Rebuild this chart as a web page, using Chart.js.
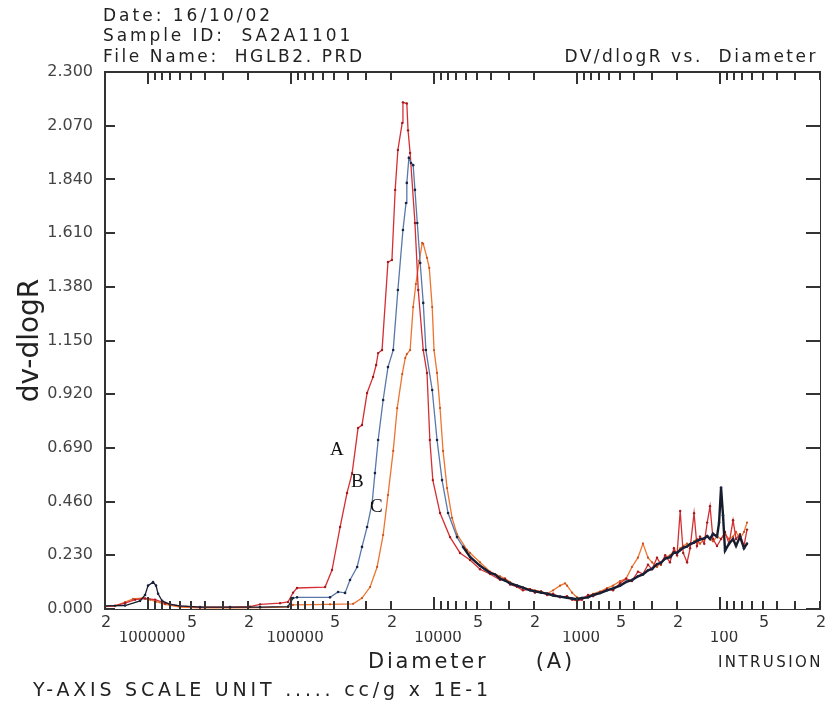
<!DOCTYPE html>
<html>
<head>
<meta charset="utf-8">
<script src="https://cdn.jsdelivr.net/npm/chart.js@4.4.1/dist/chart.umd.min.js"></script>
<style>
  html, body { margin: 0; padding: 0; background: #fff; }
  #wrap { position: relative; width: 832px; height: 704px; }
  #chart { position: absolute; left: 0; top: 0; }
  .t { position: absolute; font-family: 'DejaVu Sans', sans-serif; white-space: pre; color: #222; line-height: 1; }
  .hd { font-size: 17px; letter-spacing: 3px; left: 103px; }
  .lbl { font-family: 'Liberation Serif', serif; font-size: 19px; color: #111; }
  .ink { position: absolute; background: #333; }
</style>
</head>
<body>
<div id="wrap">
  <canvas id="chart" width="832" height="704"></canvas>
  <div class="t hd" style="top:7px">Date: 16/10/02</div>
  <div class="t hd" style="top:27px; letter-spacing:2.9px">Sample ID:  SA2A1101</div>
  <div class="t hd" style="top:48px; letter-spacing:2.6px">File Name:  HGLB2. PRD</div>
  <div class="t" style="top:48px; right:14px; font-size:17px; letter-spacing:2.5px">DV/dlogR vs.  Diameter</div>
  <div class="t" style="top:651px; left:368px; font-size:21px; letter-spacing:2.8px">Diameter     (A)</div>
  <div class="t" style="top:655px; left:718px; font-size:15px; letter-spacing:2.4px">INTRUSION</div>
  <div class="t" style="top:680px; left:33px; font-size:19px; letter-spacing:3.8px">Y-AXIS SCALE UNIT ..... cc/g x 1E-1</div>
  <div class="t lbl" style="top:439px; left:330px">A</div>
  <div class="t lbl" style="top:471px; left:351px">B</div>
  <div class="t lbl" style="top:496px; left:370px">C</div>
</div>
<script>
// pore size distribution, three samples A / B / C (diameter in A, dv/dlogR)

const diamA = [2000000, 1701000, 1448000, 1233000, 1049000, 893000, 760000, 597000, 433000, 267000,
  193500, 164700, 119400, 105000, 96800, 90800, 57800, 51700, 45400, 40600,
  37400, 34000, 31900, 29400, 26700, 25400, 24600, 23100, 21000, 19700,
  18700, 17900, 16700, 16500, 15500, 15200, 14700, 13600, 12900, 11900,
  11200, 10700, 10200, 9080, 7730, 6580, 5600,
  4770, 4060, 3455, 3190, 2940, 2630, 2390, 2130, 1970, 1785, 1620, 1470, 1315, 1175, 1084, 1000,
  923, 838, 773, 691, 617, 560, 500, 454, 413, 375, 346, 319, 299, 276, 259, 242, 224, 210, 200,
  190, 181, 170, 162, 152, 145, 138, 129, 123, 117.5, 112, 105, 98.4, 92.3, 86.5, 81.1, 77.3, 72.5, 68.0, 64.8];
const dvA = [0.010, 0.014, 0.025, 0.040, 0.045, 0.040, 0.025, 0.012, 0.008, 0.008,
  0.010, 0.020, 0.025, 0.030, 0.070, 0.090, 0.094, 0.167, 0.351, 0.497,
  0.582, 0.775, 0.788, 0.925, 0.994, 1.045, 1.096, 1.109, 1.486, 1.495,
  1.795, 1.966, 2.082, 2.170, 2.165, 2.050, 1.953, 1.653, 1.366, 1.109,
  1.011, 0.724, 0.552, 0.411, 0.308, 0.240, 0.210,
  0.170, 0.150, 0.125, 0.130, 0.105, 0.095, 0.080, 0.085, 0.070, 0.075, 0.060, 0.065, 0.050, 0.055, 0.040, 0.035,
  0.040, 0.060, 0.055, 0.070, 0.085, 0.080, 0.110, 0.130, 0.120, 0.160, 0.150, 0.190, 0.170, 0.220, 0.190, 0.230, 0.200, 0.260, 0.230,
  0.420, 0.240, 0.200, 0.260, 0.410, 0.270, 0.310, 0.280, 0.370, 0.440, 0.300, 0.270, 0.300, 0.330, 0.280, 0.380, 0.300, 0.320, 0.270, 0.340];

const diamB = [2000000, 1448000, 1137000, 1049000, 1000000, 923000, 879000, 851000, 798000, 702000,
  597000, 433000, 267000, 164700, 105000, 96800, 90800, 53400, 46900, 41900,
  38700, 34500, 31900, 29400, 27100, 25900, 24600, 22700, 21000, 19300,
  17900, 16500, 15700, 15500, 15000, 14500, 14000, 13600, 13100, 12500,
  11900, 11400, 10300, 9530, 8790, 7980, 6910, 6270, 5600,
  4770, 4400, 4060, 3744, 3455, 3190, 2940, 2630, 2390, 2130, 1970, 1785, 1620, 1470, 1315, 1175, 1084, 1000,
  923, 838, 773, 691, 617, 560, 500, 454, 413, 375, 346, 319, 299, 276, 259, 242, 224, 210, 200,
  190, 181, 170, 162, 152, 145, 138, 129, 123, 117.5, 112, 105, 101.6, 98.4, 95.3, 92.3, 86.5, 81.1, 77.3, 72.5, 68.0, 64.8];
const dvB = [0.013, 0.015, 0.035, 0.060, 0.100, 0.115, 0.100, 0.065, 0.035, 0.020,
  0.013, 0.008, 0.008, 0.008, 0.010, 0.047, 0.050, 0.050, 0.073, 0.069,
  0.124, 0.180, 0.266, 0.351, 0.454, 0.582, 0.724, 0.895, 1.036, 1.109,
  1.366, 1.623, 1.739, 1.825, 1.932, 1.910, 1.901, 1.795, 1.653, 1.482,
  1.311, 1.109, 0.938, 0.724, 0.552, 0.411, 0.308, 0.266, 0.223,
  0.185, 0.170, 0.155, 0.148, 0.130, 0.122, 0.110, 0.100, 0.092, 0.080, 0.076, 0.070, 0.066, 0.058, 0.053, 0.048, 0.045, 0.042,
  0.047, 0.050, 0.060, 0.068, 0.080, 0.088, 0.100, 0.116, 0.124, 0.140, 0.148, 0.166, 0.172, 0.192, 0.198, 0.216, 0.222, 0.242, 0.240,
  0.252, 0.262, 0.268, 0.278, 0.284, 0.292, 0.298, 0.302, 0.312, 0.300, 0.322, 0.310, 0.370, 0.520, 0.400, 0.250, 0.280, 0.300, 0.270, 0.310, 0.260, 0.280];

const diamC = [2000000, 1701000, 1448000, 1273000, 1084000, 968000, 879000, 760000, 597000, 433000,
  267000, 164700, 105000, 96800, 53400, 36800, 31900, 28000, 25000, 22700,
  21000, 19300, 18100, 16700, 15900, 15500, 14700, 14000, 13400, 12700,
  12100, 11900, 11200, 10800, 10300, 10000, 9530, 9080, 8650, 8110,
  7480, 6910, 5880, 5600,
  4770, 4060, 3455, 3190, 2940, 2630, 2390, 2130, 1970, 1785, 1620, 1470, 1315, 1213, 1175, 1084, 1000,
  923, 838, 773, 691, 617, 560, 500, 454, 413, 375, 346, 319, 299, 276, 259, 242, 224, 210, 200,
  190, 181, 170, 162, 152, 145, 138, 129, 123, 117.5, 112, 105, 98.4, 92.3, 86.5, 81.1, 77.3, 72.5, 68.0, 64.8];
const dvC = [0.010, 0.012, 0.030, 0.043, 0.047, 0.040, 0.032, 0.020, 0.008, 0.005,
  0.005, 0.006, 0.008, 0.018, 0.020, 0.022, 0.047, 0.094, 0.180, 0.317,
  0.488, 0.677, 0.860, 1.006, 1.075, 1.092, 1.109, 1.293, 1.392, 1.491,
  1.568, 1.564, 1.504, 1.461, 1.293, 1.109, 1.011, 0.861, 0.677, 0.518,
  0.390, 0.320, 0.253, 0.240,
  0.200, 0.160, 0.140, 0.130, 0.115, 0.100, 0.090, 0.085, 0.080, 0.075, 0.065, 0.080, 0.100, 0.110, 0.100, 0.070, 0.050,
  0.045, 0.055, 0.065, 0.075, 0.090, 0.100, 0.120, 0.130, 0.180, 0.220, 0.280, 0.220, 0.200, 0.180, 0.200, 0.220, 0.230, 0.250, 0.240,
  0.260, 0.270, 0.280, 0.270, 0.290, 0.300, 0.280, 0.300, 0.310, 0.300, 0.290, 0.310, 0.300, 0.320, 0.300, 0.310, 0.330, 0.300, 0.330, 0.370];

// axis ticks
const yTickVals = [0, 0.23, 0.46, 0.69, 0.92, 1.15, 1.38, 1.61, 1.84, 2.07, 2.3];
const xDigitVals = [2000000, 500000, 200000, 50000, 20000, 5000, 2000, 500, 200, 50, 20];
const xDigitText = ['2', '5', '2', '5', '2', '5', '2', '5', '2', '5', '2'];
const xDecades = [1000000, 100000, 10000, 1000, 100];
const xDecadeText = ['1000000', '100000', '10000', '1000', '100'];

// every 1..9 x 10^n mark between 20 and 2e6 (minor tick marks of the log axis)
const xMinor = [];
for (let e = 1; e <= 6; e++) for (let n = 1; n <= 9; n++) {
  const v = n * Math.pow(10, e);
  if (v >= 20 && v <= 2000000) xMinor.push(v);
}

const pts = (xs, ys) => xs.map((d, i) => ({ x: d, y: ys[i] }));
const INK = '#333333';
const FONT = 'DejaVu Sans';

// two stacked label rows under the plot: the 2/5 digits, then the decade numbers
const labelAxis = (vals, texts, size, pad, offset, weight, height) => ({
  type: 'logarithmic', reverse: true, min: 20, max: 2000000, position: 'bottom', weight,
  afterBuildTicks: s => { s.ticks = vals.map(v => ({ value: v })); },
  afterFit: s => { s.height = height; },
  border: { display: false },
  grid: { display: false, drawTicks: false },
  ticks: {
    autoSkip: false, maxRotation: 0, minRotation: 0, padding: pad, labelOffset: offset, color: INK,
    font: { family: FONT, size },
    callback: (v, i) => texts[i]
  }
});

const chart = new Chart(document.getElementById('chart').getContext('2d'), {
  type: 'line',
  data: {
    datasets: [
      { label: 'B', data: pts(diamB, dvB), order: 0, borderWidth: 1.3, tension: 0,
        pointRadius: 1.3, pointBorderWidth: 0, pointBackgroundColor: '#1a2440',
        segment: {
          borderColor: c => (c.p0.parsed.x < 6500 || c.p0.parsed.x > 102000) ? '#161c2c' : '#5878aa',
          borderWidth: c => c.p0.parsed.x < 6500 ? 2.4 : 1.3
        } },
      { label: 'A', data: pts(diamA, dvA), order: 1, borderColor: '#d42f33', borderWidth: 1.3, tension: 0,
        pointRadius: 1.2, pointBorderWidth: 0, pointBackgroundColor: '#a01a1e' },
      { label: 'C', data: pts(diamC, dvC), order: 2, borderColor: '#ee7430', borderWidth: 1.3, tension: 0,
        pointRadius: 1.1, pointBorderWidth: 0, pointBackgroundColor: '#c8521c' }
    ]
  },
  options: {
    responsive: false,
    animation: false,
    events: [],
    layout: { padding: { top: 72, right: 12, bottom: 0, left: 0 } },
    plugins: { legend: { display: false }, tooltip: { enabled: false } },
    scales: {
      x: labelAxis(xDigitVals, xDigitText, 16, 4, 1, 0, 22),
      xDec: labelAxis(xDecades, xDecadeText, 15, -2, 4, 1, 73),
      y: {
        type: 'linear', min: 0, max: 2.3, position: 'left',
        afterBuildTicks: s => { s.ticks = yTickVals.map(v => ({ value: v })); },
        afterFit: s => { s.width = 105; },
        border: { display: false },
        grid: { display: false, drawTicks: false },
        ticks: { padding: 12, color: '#444444', font: { family: FONT, size: 16 }, callback: v => v.toFixed(3) },
        title: { display: true, text: 'dv-dlogR', color: '#222222', padding: { top: 14, bottom: 0 },
          font: { family: FONT, size: 28 } }
      }
    }
  }
});

// frame and inward tick marks laid over the canvas, placed from the chart's own scales
const wrap = document.getElementById('wrap');
function ink(l, t, w, h) {
  const d = document.createElement('div');
  d.className = 'ink';
  d.style.left = l + 'px'; d.style.top = t + 'px';
  d.style.width = w + 'px'; d.style.height = h + 'px';
  wrap.appendChild(d);
}
const a = chart.chartArea, sx = chart.scales.x, sy = chart.scales.y;
ink(a.left - 1, a.top - 1, a.right - a.left + 2, 1.6);
ink(a.left - 1, a.bottom - 0.5, a.right - a.left + 2, 1.6);
ink(a.left - 1, a.top - 1, 1.6, a.bottom - a.top + 2);
ink(a.right - 0.5, a.top - 1, 1.6, a.bottom - a.top + 2);
xMinor.forEach(v => {
  const px = Math.round(sx.getPixelForValue(v));
  const len = xDecades.includes(v) ? 12 : 8;
  ink(px - 0.6, a.bottom - len, 1.2, len);
  ink(px - 0.6, a.top, 1.2, len);
});
yTickVals.forEach(v => {
  const py = Math.round(sy.getPixelForValue(v));
  ink(a.left, py - 0.6, 10, 1.2);
  ink(a.right - 14, py - 0.6, 14, 1.2);
});
</script>
</body>
</html>
